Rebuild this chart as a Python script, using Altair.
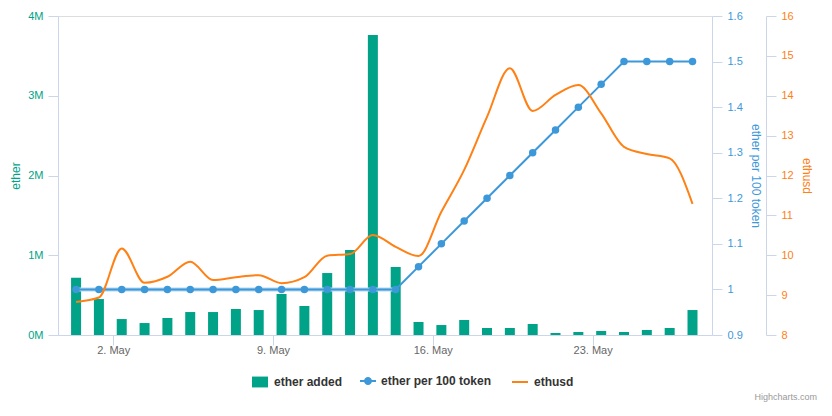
import altair as alt
import pandas as pd

FONT = "Liberation Sans"
TEAL = "#00a388"
BLUE = "#3d98d9"
ORANGE = "#ff8014"
AXIS = "#ccd6eb"

days = ["2016-04-30", "2016-05-01", "2016-05-02", "2016-05-03", "2016-05-04", "2016-05-05",
        "2016-05-06", "2016-05-07", "2016-05-08", "2016-05-09", "2016-05-10", "2016-05-11",
        "2016-05-12", "2016-05-13", "2016-05-14", "2016-05-15", "2016-05-16", "2016-05-17",
        "2016-05-18", "2016-05-19", "2016-05-20", "2016-05-21", "2016-05-22", "2016-05-23",
        "2016-05-24", "2016-05-25", "2016-05-26", "2016-05-27"]

ether_added = [718000, 451000, 200000, 150000, 213000, 288000, 288000, 326000, 313000,
               514000, 364000, 777000, 1066000, 3762000, 853000, 163000, 125000, 188000,
               88000, 88000, 138000, 25000, 38000, 50000, 38000, 63000, 88000, 313000]

ether_per_100 = [1.0, 1.0, 1.0, 1.0, 1.0, 1.0, 1.0, 1.0, 1.0, 1.0, 1.0, 1.0, 1.0, 1.0, 1.0,
                 1.05, 1.1, 1.15, 1.2, 1.25, 1.3, 1.35, 1.4, 1.45, 1.5, 1.5, 1.5, 1.5]

ethusd = [8.83, 8.94, 10.17, 9.31, 9.46, 9.84, 9.38, 9.45, 9.50, 9.30, 9.45, 9.99, 10.03,
          10.51, 10.21, 9.98, 11.09, 12.14, 13.47, 14.69, 13.62, 14.02, 14.27, 13.56,
          12.72, 12.54, 12.43, 11.29]

df = pd.DataFrame({
    "t": [d + "T09:00:00" for d in days],
    "ether": ether_added,
    "token": ether_per_100,
    "usd": ethusd,
})


def dt(y, mo, d, h=0, mi=0):
    return alt.DateTime(year=y, month=mo, date=d, hours=h, minutes=mi)


x_enc = alt.X(
    "t:T",
    scale=alt.Scale(domain=[dt(2016, 4, 29, 14, 0), dt(2016, 5, 28, 5, 30)], padding=0,
                    nice=False),
    axis=alt.Axis(
        values=[dt(2016, 5, 2), dt(2016, 5, 9), dt(2016, 5, 16), dt(2016, 5, 23)],
        format="%-d. %b", title=None, grid=False,
        labelColor="#666666", labelFontSize=11, labelFont=FONT, labelPadding=-1,
        domainColor=AXIS, tickColor=AXIS, tickSize=10,
    ),
)


def legend(x, shape, **kw):
    return alt.Legend(
        orient="none", legendX=x, legendY=357, direction="horizontal", title=None,
        labelFont=FONT, labelFontSize=12, labelFontWeight="bold", labelColor="#333333",
        symbolSize=256, labelOffset=5, padding=0, symbolType=shape, symbolOpacity=1, **kw)


RECT = "M-1,-0.68H1V0.68H-1Z"
LINE_DOT = ("M-1,-0.125H1V0.125H-1Z"
            "M-0.5,0A0.5,0.5,0,1,1,0.5,0A0.5,0.5,0,1,1,-0.5,0Z")

bars = alt.Chart(df).transform_calculate(s1="'ether added'").mark_bar(size=10).encode(
    x=x_enc,
    y=alt.Y("ether:Q", scale=alt.Scale(domain=[0, 4000000], nice=False),
            axis=alt.Axis(orient="left", values=[0, 1000000, 2000000, 3000000, 4000000],
                          labelExpr="datum.value / 1000000 + 'M'", grid=False,
                          labelColor=TEAL, labelFontSize=11, labelFont=FONT, labelPadding=5,
                          domainColor=AXIS, tickColor=AXIS, tickSize=10,
                          title="ether", titleColor=TEAL, titleFont=FONT, titleFontSize=12,
                          titleFontWeight="normal", titleX=-43, titleY=159.5,
                          titleBaseline="middle")),
    color=alt.Color("s1:N", scale=alt.Scale(domain=["ether added"], range=[TEAL]),
                    legend=legend(193, RECT)),
)

token_axis = alt.Axis(orient="right", values=[0.9, 1.0, 1.1, 1.2, 1.3, 1.4, 1.5, 1.6],
                      labelExpr="toString(round(datum.value * 10) / 10)", grid=False,
                      labelColor=BLUE, labelFontSize=11, labelFont=FONT, labelPadding=5,
                      domainColor=AXIS, tickColor=AXIS, tickSize=10,
                      title="ether per 100 token", titleColor=BLUE, titleFont=FONT,
                      titleFontSize=12, titleFontWeight="normal", titleX=43, titleY=159.5,
                      titleAngle=90, titleBaseline="middle")
token_scale = alt.Scale(domain=[0.9, 1.6], nice=False, zero=False)
token_y = alt.Y("token:Q", scale=token_scale, axis=token_axis)

halo = alt.Chart(df).transform_filter("datum.token === 1").mark_line(
    color="#b3d6f2", strokeWidth=4).encode(x=x_enc, y=token_y)

token_line = alt.Chart(df).mark_line(color=BLUE, strokeWidth=2).encode(x=x_enc, y=token_y)

token_dots = alt.Chart(df).transform_calculate(s2="'ether per 100 token'").mark_circle(
    size=56, opacity=1).encode(
    x=x_enc, y=token_y,
    fill=alt.Fill("s2:N", scale=alt.Scale(domain=["ether per 100 token"], range=[BLUE]),
                  legend=legend(302, LINE_DOT, symbolFillColor=BLUE, symbolStrokeWidth=0)),
)

usd_line = alt.Chart(df).transform_calculate(s3="'ethusd'").mark_line(
    strokeWidth=2, interpolate="monotone").encode(
    x=x_enc,
    y=alt.Y("usd:Q", scale=alt.Scale(domain=[8, 16], nice=False, zero=False),
            axis=alt.Axis(orient="right", offset=54, values=[8, 9, 10, 11, 12, 13, 14, 15, 16],
                          grid=False, labelColor=ORANGE, labelFontSize=11, labelFont=FONT,
                          labelPadding=5, domainColor=AXIS, tickColor=AXIS, tickSize=10,
                          title="ethusd", titleColor=ORANGE, titleFont=FONT, titleFontSize=12,
                          titleFontWeight="normal", titleX=40, titleY=159.5, titleAngle=90,
                          titleBaseline="middle")),
    stroke=alt.Stroke("s3:N", scale=alt.Scale(domain=["ethusd"], range=[ORANGE]),
                      legend=legend(453, "stroke", symbolStrokeWidth=2)),
)

chart = alt.layer(
    bars, alt.layer(halo, token_line, token_dots), usd_line
).resolve_scale(y="independent").resolve_axis(y="independent").properties(
    width=654, height=319,
    autosize=alt.AutoSizeParams(type="none"),
    padding={"left": 50, "top": 8, "right": 112, "bottom": 69},
    title=alt.TitleParams("Highcharts.com", orient="bottom", anchor="end", frame="group",
                          fontSize=9, color="#999999", fontWeight="normal", font=FONT,
                          dx=105, offset=5),
).configure_view(stroke=None).configure(font=FONT)

chart.save("out.html", embed_options={"renderer": "svg", "actions": False})
